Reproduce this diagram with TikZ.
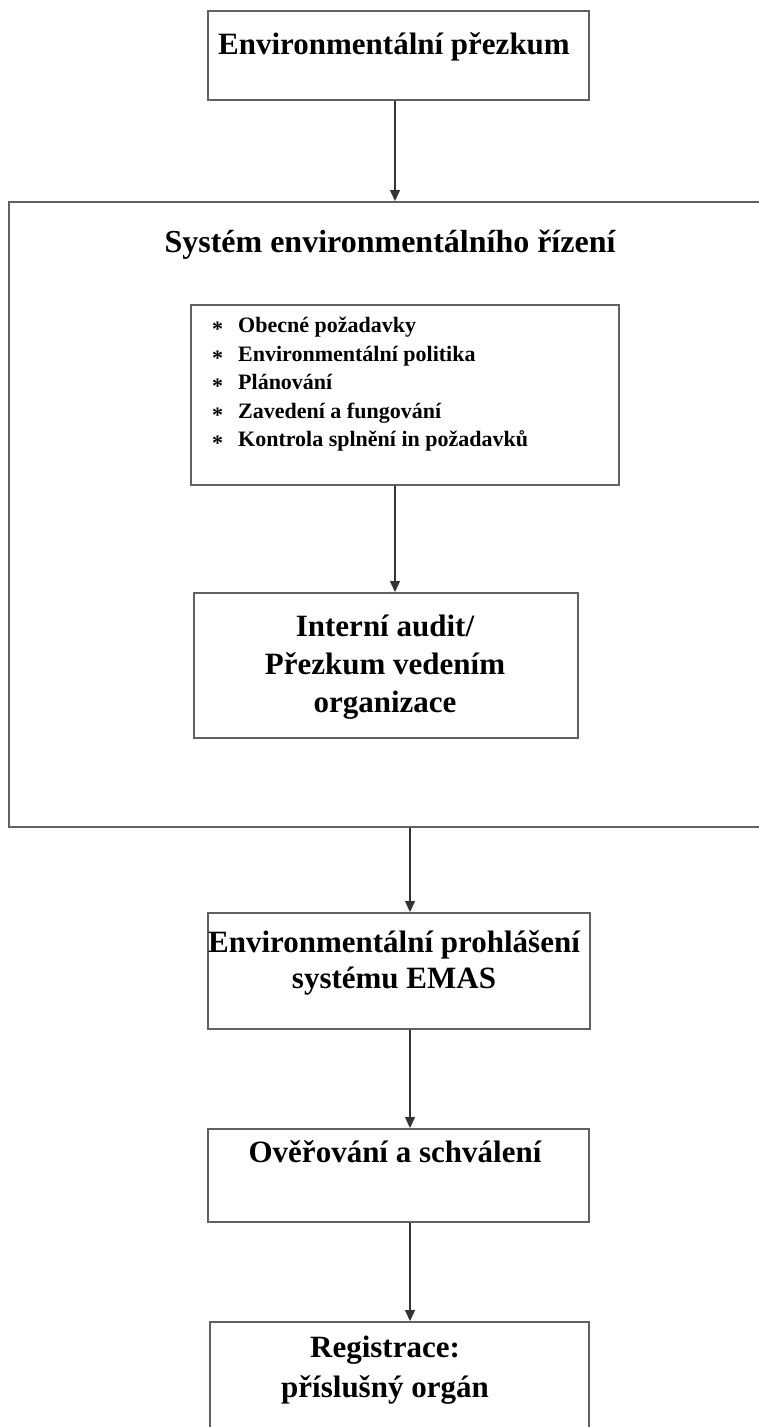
\documentclass[tikz,border=0pt]{standalone}
\usepackage{fontspec}
\setmainfont{Liberation Serif}
\usetikzlibrary{calc, positioning, arrows.meta}

\tikzset{
  frame/.style={draw=black!62, line width=1.7pt, rectangle, inner sep=0pt, anchor=north west},
  flow/.style={draw=black!80, line width=1.3pt, -{Triangle[width=10pt,length=11pt]}},
  boxtext/.style={font=\fontsize{31}{38}\selectfont\bfseries, align=center, inner sep=0pt, anchor=base},
  itemtext/.style={font=\fontsize{22}{26}\selectfont\bfseries, inner sep=0pt, anchor=base west},
}

\begin{document}
\begin{tikzpicture}[x=1pt,y=-1pt]
\clip (0,0) rectangle (759,1427);
\fill[white] (0,0) rectangle (759,1427);

% axes of the arrows
\coordinate (upaxis) at (395,0);
\coordinate (lowaxis) at (410,0);

% top box
\node[frame, minimum width=381pt, minimum height=89pt] (review) at (207,10) {};
\node[boxtext] (reviewtxt) at (394,54) {Environmentální přezkum};

% big box with the management system
\node[frame, minimum width=780pt, minimum height=625pt] (ems) at (8,201) {};
\node[boxtext, font=\fontsize{32}{38}\selectfont\bfseries] (emstxt) at (390,252) {Systém environmentálního řízení};

% list of requirements
\node[frame, minimum width=428pt, minimum height=180pt] (req) at (190,304) {};
\node[itemtext] (s1) at (212,336) {*};
\node[itemtext] (r1) at (238,332) {Obecné požadavky};
\node[itemtext] (s2) at (212,365) {*};
\node[itemtext] (r2) at (238,361) {Environmentální politika};
\node[itemtext] (s3) at (212,393) {*};
\node[itemtext] (r3) at (238,389) {Plánování};
\node[itemtext] (s4) at (212,422) {*};
\node[itemtext] (r4) at (238,418) {Zavedení a fungování};
\node[itemtext] (s5) at (212,450) {*};
\node[itemtext] (r5) at (238,446) {Kontrola splnění in požadavků};

% internal audit
\node[frame, minimum width=384pt, minimum height=145pt] (audit) at (193,592) {};
\node[boxtext] (audittxt) at (385,712) {Interní audit/\\Přezkum vedením\\organizace};

% statement
\node[frame, minimum width=382pt, minimum height=116pt] (emas) at (207,912) {};
\node[boxtext, font=\fontsize{31}{36}\selectfont\bfseries] (emastxt) at (394,988) {Environmentální prohlášení\\systému EMAS};

% verification
\node[frame, minimum width=381pt, minimum height=93pt] (verif) at (207,1128) {};
\node[boxtext] (veriftxt) at (395,1162) {Ověřování a schválení};

% registration
\node[frame, minimum width=379pt, minimum height=140pt] (regist) at (209,1321) {};
\node[boxtext, font=\fontsize{31}{40}\selectfont\bfseries] (registtxt) at (385,1397) {Registrace:\\příslušný orgán};

% arrows
\draw[flow] (review.south -| upaxis) -- (ems.north -| upaxis);
\draw[flow] (req.south -| upaxis) -- (audit.north -| upaxis);
\draw[flow] (ems.south -| lowaxis) -- (emas.north -| lowaxis);
\draw[flow] (emas.south -| lowaxis) -- (verif.north -| lowaxis);
\draw[flow] (verif.south -| lowaxis) -- (regist.north -| lowaxis);
\end{tikzpicture}
\end{document}
